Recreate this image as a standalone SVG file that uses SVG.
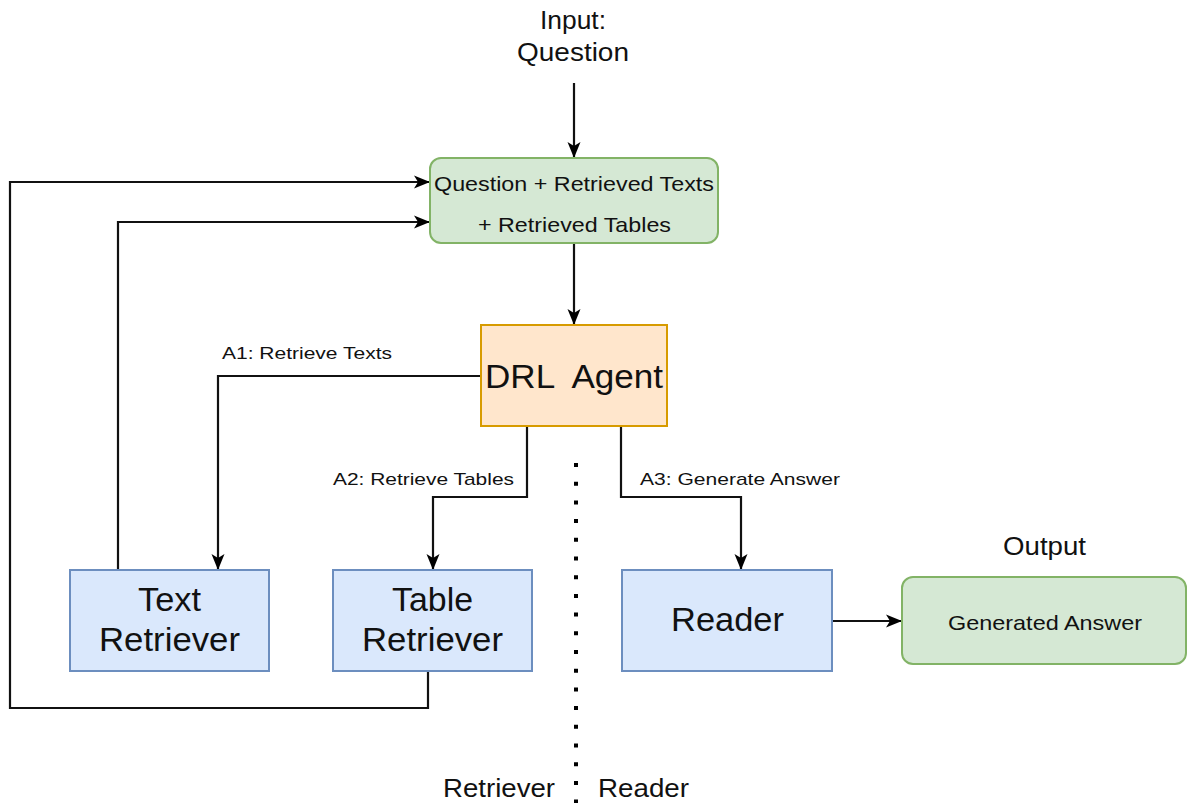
<svg xmlns="http://www.w3.org/2000/svg" width="1187" height="803" viewBox="0 0 1187 803">
<style>
text{font-family:"Liberation Sans",Arial,sans-serif;fill:#111;}
.edge{fill:none;stroke:#111;stroke-width:2.2;}
.green{fill:#d5e8d4;stroke:#82b366;stroke-width:2;}
.orange{fill:#ffe6cc;stroke:#d79b00;stroke-width:2;}
.blue{fill:#dae8fc;stroke:#6c8ebf;stroke-width:2;}
.lbl{font-size:17px;}
.big{font-size:33px;}
.mid{font-size:25px;}
.box{font-size:21px;}
</style>
<defs>
<marker id="arr" markerWidth="16" markerHeight="16" refX="15" refY="8" orient="auto" markerUnits="userSpaceOnUse">
<path d="M0,1.5 L16,8 L0,14.5 L4,8 Z" fill="#000"/>
</marker>
</defs>
<rect width="1187" height="803" fill="#fff"/>
<g id="connectors">
<path class="edge" d="M574,83 V157" marker-end="url(#arr)"/>
<path class="edge" d="M574,244 V324" marker-end="url(#arr)"/>
<path class="edge" d="M481,376 H218 V569" marker-end="url(#arr)"/>
<path class="edge" d="M527,427 V497 H433 V569" marker-end="url(#arr)"/>
<path class="edge" d="M621,427 V497 H741 V569" marker-end="url(#arr)"/>
<path class="edge" d="M833,621 H901" marker-end="url(#arr)"/>
<path class="edge" d="M428,671 V708 H10 V182 H429" marker-end="url(#arr)"/>
<path class="edge" d="M118,570 V222 H429" marker-end="url(#arr)"/>
<line x1="576" y1="463" x2="576" y2="803" stroke="#000" stroke-width="4" stroke-dasharray="4 14.7"/>
<text class="lbl" x="222" y="359" textLength="170" lengthAdjust="spacingAndGlyphs">A1: Retrieve Texts</text>
<text class="lbl" x="333" y="485" textLength="181" lengthAdjust="spacingAndGlyphs">A2: Retrieve Tables</text>
<text class="lbl" x="640" y="485" textLength="200" lengthAdjust="spacingAndGlyphs">A3: Generate Answer</text>
</g>
<g id="input-label">
<text class="mid" x="540" y="29" textLength="66" lengthAdjust="spacingAndGlyphs">Input:</text>
<text class="mid" x="517" y="61" textLength="112" lengthAdjust="spacingAndGlyphs">Question</text>
</g>
<g id="state">
<rect class="green" x="430" y="158" width="288" height="85" rx="11"/>
<text class="box" x="434" y="191" textLength="280" lengthAdjust="spacingAndGlyphs">Question + Retrieved Texts</text>
<text class="box" x="478" y="232" textLength="193" lengthAdjust="spacingAndGlyphs">+ Retrieved Tables</text>
</g>
<g id="agent">
<rect class="orange" x="481" y="325" width="186" height="101"/>
<text x="485" y="388" font-size="34" textLength="178" lengthAdjust="spacingAndGlyphs" xml:space="preserve">DRL  Agent</text>
</g>
<g id="text-retriever">
<rect class="blue" x="70" y="570" width="199" height="101"/>
<text class="big" x="138" y="611" textLength="63" lengthAdjust="spacingAndGlyphs">Text</text>
<text class="big" x="99" y="651" textLength="141" lengthAdjust="spacingAndGlyphs">Retriever</text>
</g>
<g id="table-retriever">
<rect class="blue" x="333" y="570" width="199" height="101"/>
<text class="big" x="392" y="611" textLength="81" lengthAdjust="spacingAndGlyphs">Table</text>
<text class="big" x="362" y="651" textLength="141" lengthAdjust="spacingAndGlyphs">Retriever</text>
</g>
<g id="reader">
<rect class="blue" x="622" y="570" width="210" height="101"/>
<text class="big" x="671" y="631" textLength="113" lengthAdjust="spacingAndGlyphs">Reader</text>
</g>
<g id="output-label">
<text class="mid" x="1003" y="555" textLength="83" lengthAdjust="spacingAndGlyphs">Output</text>
</g>
<g id="answer">
<rect class="green" x="902" y="577" width="284" height="87" rx="11"/>
<text class="box" x="948" y="630" textLength="194" lengthAdjust="spacingAndGlyphs">Generated Answer</text>
</g>
<g id="section-labels">
<text class="mid" x="443" y="797" textLength="112" lengthAdjust="spacingAndGlyphs">Retriever</text>
<text class="mid" x="598" y="797" textLength="91" lengthAdjust="spacingAndGlyphs">Reader</text>
</g>
</svg>
